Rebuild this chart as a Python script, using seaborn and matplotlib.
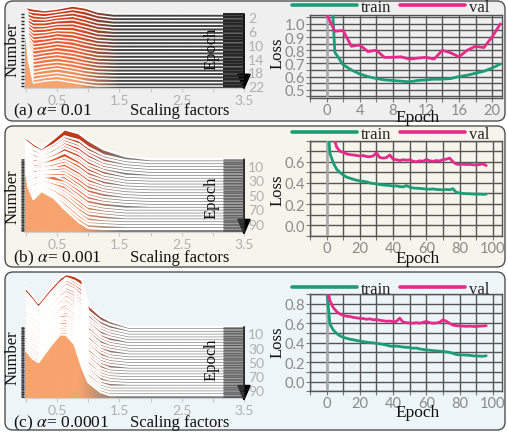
import numpy as np
import pandas as pd
import seaborn as sns
import matplotlib
import matplotlib.pyplot as plt
from matplotlib.colors import LinearSegmentedColormap
from matplotlib.patches import Polygon, FancyBboxPatch
from matplotlib.lines import Line2D
from matplotlib.transforms import IdentityTransform

matplotlib.use("Agg")

# ----------------------------
# Data
# ----------------------------
# ridge heights ("Number") per epoch, sampled at scaling-factor knots
knots_a = [0.0, 0.04, 0.12, 0.3, 0.5, 0.75, 0.95, 1.15, 1.4]
epochs_a = list(range(1, 23))
heights_a = [
    [7, 6, 5, 3.5, 5, 8, 6, 2, 0],
    [9, 6, 5, 4, 5.5, 8, 6, 2, 0],
    [11, 7, 5, 4, 6, 8, 5.5, 2, 0],
    [13, 7, 5, 4.5, 6.5, 8, 5, 1.5, 0],
    [15, 8, 5, 5, 7, 8, 5, 1.5, 0],
    [17, 8, 5, 5, 7, 7.5, 4.5, 1.5, 0],
    [20, 9, 5, 5.5, 7.5, 7.5, 4.5, 1, 0],
    [22, 9, 5, 5.5, 7.5, 7, 4, 1, 0],
    [24, 10, 5, 6, 8, 7, 4, 1, 0],
    [26, 10, 5, 6, 8, 6.5, 3.5, 1, 0],
    [28, 11, 4.5, 6, 8, 6.5, 3.5, 1, 0],
    [30, 12, 4.5, 6, 8, 6, 3, 1, 0],
    [32, 13, 4.5, 6, 8, 6, 3, 0.5, 0],
    [35, 14, 4, 6, 7.5, 5.5, 3, 0.5, 0],
    [37, 15, 4, 6, 7.5, 5.5, 2.5, 0.5, 0],
    [39, 16, 4, 6, 7.5, 5, 2.5, 0.5, 0],
    [41, 17, 4, 5.5, 7, 5, 2.5, 0.5, 0],
    [43, 18, 3.5, 5.5, 7, 4.5, 2, 0.5, 0],
    [45, 19, 3.5, 5.5, 7, 4.5, 2, 0.5, 0],
    [47, 20, 3.5, 5, 6.5, 4, 2, 0.5, 0],
    [50, 22, 3, 5, 6.5, 4, 1.5, 0, 0],
    [52, 25, 3, 5, 6, 3.5, 1.5, 0, 0],
]
ticks_epochs_a = list(range(1, 23))
label_epochs_a = [2, 6, 10, 14, 18, 22]

knots_b = [0.0, 0.04, 0.12, 0.25, 0.45, 0.62, 0.85, 1.0, 1.25, 1.6, 2.0]
epochs_b = list(range(1, 98, 4))
heights_b = [
    [21, 20, 16, 11, 21, 30, 26, 19, 10, 3, 0],
    [21, 19, 15, 11, 18, 26, 22, 15, 7, 2, 0],
    [22, 20, 16, 12, 18, 26, 21, 14, 7, 2, 0],
    [24, 21, 16, 13, 19, 26, 21, 14, 6, 2, 0],
    [25, 22, 17, 14, 19, 26, 20, 13, 6, 2, 0],
    [27, 23, 17, 15, 20, 26, 20, 13, 6, 2, 0],
    [28, 24, 18, 16, 20, 25, 19, 12, 6, 1, 0],
    [30, 25, 18, 17, 22, 27, 19, 12, 5, 1, 0],
    [31, 26, 19, 18, 21, 25, 18, 11, 5, 1, 0],
    [33, 27, 19, 19, 22, 25, 17, 10, 5, 1, 0],
    [34, 28, 20, 20, 22, 25, 17, 10, 4, 1, 0],
    [36, 29, 21, 22, 23, 24, 16, 9, 4, 1, 0],
    [37, 30, 21, 23, 23, 24, 16, 9, 4, 1, 0],
    [39, 31, 22, 24, 24, 24, 15, 8, 4, 1, 0],
    [40, 32, 23, 25, 24, 24, 14, 7, 3, 1, 0],
    [42, 33, 23, 26, 27, 23, 14, 7, 3, 1, 0],
    [43, 34, 24, 28, 25, 23, 13, 6, 3, 1, 0],
    [45, 35, 25, 29, 26, 23, 12, 5, 2, 0, 0],
    [46, 36, 25, 30, 26, 22, 12, 5, 2, 0, 0],
    [48, 37, 26, 31, 27, 22, 11, 4, 2, 0, 0],
    [50, 38, 27, 33, 28, 22, 10, 4, 2, 0, 0],
    [51, 39, 27, 34, 28, 21, 9, 3, 1, 0, 0],
    [53, 40, 28, 35, 29, 21, 9, 2, 1, 0, 0],
    [55, 41, 29, 36, 30, 20, 8, 2, 1, 0, 0],
    [57, 42, 30, 38, 31, 20, 7, 1, 0, 0, 0],
]
ticks_epochs_bc = list(range(1, 101))
label_epochs_bc = [10, 30, 50, 70, 90]

knots_c = [0.0, 0.1, 0.2, 0.4, 0.55, 0.65, 0.78, 0.9, 1.0, 1.2, 1.35, 1.65]
epochs_c = list(range(1, 98, 4))
heights_c = [
    [39, 32, 24, 39, 49, 53, 51, 47, 22, 11, 6, 0],
    [37, 30, 22, 37, 47, 52, 49, 44, 19, 9, 5, 0],
    [38, 31, 23, 37, 47, 53, 49, 44, 19, 8, 4, 0],
    [38, 31, 23, 38, 48, 53, 49, 43, 18, 8, 4, 0],
    [39, 32, 24, 38, 48, 53, 49, 42, 18, 8, 4, 0],
    [39, 32, 24, 39, 49, 54, 50, 42, 18, 7, 4, 0],
    [40, 32, 25, 40, 50, 54, 50, 41, 18, 7, 3, 0],
    [40, 33, 25, 40, 50, 54, 50, 40, 17, 7, 3, 0],
    [40, 33, 26, 41, 51, 55, 50, 40, 17, 6, 3, 0],
    [41, 33, 26, 42, 52, 55, 50, 39, 17, 6, 3, 0],
    [41, 34, 27, 42, 52, 56, 50, 38, 16, 6, 2, 0],
    [41, 34, 27, 43, 53, 56, 50, 37, 16, 6, 2, 0],
    [42, 34, 28, 44, 54, 57, 50, 37, 16, 5, 2, 0],
    [42, 35, 28, 44, 54, 57, 51, 36, 16, 5, 2, 0],
    [42, 35, 29, 45, 55, 57, 51, 35, 15, 5, 2, 0],
    [43, 35, 29, 46, 56, 58, 51, 34, 15, 5, 1, 0],
    [43, 36, 30, 46, 57, 58, 51, 34, 15, 4, 1, 0],
    [43, 36, 30, 47, 57, 58, 51, 33, 15, 4, 1, 0],
    [44, 36, 31, 48, 58, 59, 51, 32, 14, 4, 1, 0],
    [44, 36, 31, 48, 59, 59, 51, 31, 14, 4, 1, 0],
    [44, 37, 32, 49, 59, 59, 51, 31, 14, 3, 1, 0],
    [44, 37, 32, 49, 60, 59, 51, 30, 14, 3, 0, 0],
    [45, 37, 32, 49, 60, 60, 51, 29, 13, 3, 0, 0],
    [45, 37, 33, 50, 61, 60, 51, 29, 13, 3, 0, 0],
    [45, 37, 33, 50, 61, 60, 51, 28, 13, 3, 0, 0],
]

# loss curves
loss_epochs_a = list(range(0, 22))
train_a = [2.0, 0.785, 0.69, 0.65, 0.62, 0.60, 0.585, 0.575, 0.57, 0.565, 0.56,
           0.57, 0.575, 0.58, 0.58, 0.585, 0.60, 0.61, 0.625, 0.64, 0.665, 0.695]
val_a = [1.076, 0.944, 0.95, 0.83, 0.84, 0.79, 0.80, 0.746, 0.746, 0.75, 0.733,
         0.74, 0.746, 0.733, 0.80, 0.78, 0.75, 0.80, 0.83, 0.82, 0.90, 1.0]

loss_epochs_bc = list(range(0, 98, 2))
train_b = [1.10, 0.68, 0.59, 0.53, 0.50, 0.475, 0.455, 0.445, 0.435, 0.425,
           0.42, 0.415, 0.41, 0.40, 0.395, 0.39, 0.385, 0.38, 0.378, 0.375,
           0.37, 0.372, 0.365, 0.362, 0.375, 0.36, 0.352, 0.35, 0.348, 0.345,
           0.342, 0.34, 0.343, 0.338, 0.336, 0.335, 0.338, 0.335, 0.345, 0.31,
           0.305, 0.30, 0.298, 0.297, 0.295, 0.293, 0.294, 0.292, 0.293]
val_b = [1.05, 0.98, 0.85, 0.74, 0.70, 0.69, 0.675, 0.668, 0.665, 0.66,
         0.655, 0.66, 0.65, 0.648, 0.655, 0.685, 0.64, 0.635, 0.64, 0.665,
         0.625, 0.62, 0.612, 0.62, 0.615, 0.62, 0.605, 0.60, 0.61, 0.605,
         0.622, 0.61, 0.605, 0.612, 0.608, 0.62, 0.625, 0.635, 0.60, 0.578,
         0.575, 0.577, 0.574, 0.576, 0.572, 0.57, 0.575, 0.58, 0.565]
train_c = [0.95, 0.59, 0.53, 0.495, 0.47, 0.455, 0.445, 0.435, 0.43, 0.422,
           0.418, 0.41, 0.405, 0.40, 0.398, 0.392, 0.388, 0.382, 0.375, 0.365,
           0.362, 0.365, 0.36, 0.355, 0.352, 0.35, 0.343, 0.345, 0.335, 0.33,
           0.325, 0.322, 0.318, 0.315, 0.312, 0.31, 0.305, 0.30, 0.29, 0.278,
           0.275, 0.274, 0.272, 0.27, 0.265, 0.262, 0.262, 0.26, 0.265]
val_c = [1.0, 0.83, 0.76, 0.72, 0.695, 0.68, 0.672, 0.668, 0.66, 0.655,
         0.65, 0.648, 0.64, 0.645, 0.635, 0.638, 0.63, 0.625, 0.62, 0.622,
         0.615, 0.618, 0.652, 0.61, 0.605, 0.602, 0.60, 0.605, 0.60, 0.608,
         0.618, 0.605, 0.60, 0.602, 0.61, 0.635, 0.62, 0.598, 0.58, 0.574,
         0.572, 0.57, 0.568, 0.57, 0.567, 0.566, 0.57, 0.572, 0.574]

panel_labels = [r"(a) $\alpha$= 0.01", r"(b) $\alpha$= 0.001", r"(c) $\alpha$= 0.0001"]

# ----------------------------
# Style
# ----------------------------
W, H = 508, 435
sns.set_theme(style="white")
plt.rcParams["font.family"] = ["Liberation Serif", "DejaVu Serif"]
plt.rcParams["mathtext.fontset"] = "stix"

TEAL = "#1b9e77"
PINK = "#e7298a"
SANS = ["Lato", "DejaVu Sans"]
ridge_cmap = LinearSegmentedColormap.from_list(
    "ridge", ["#c1381a", "#e25229", "#ef6d3e", "#f7a46e"])

fig = plt.figure(figsize=(W / 100, H / 100), dpi=100)


def rect(x0, y0, x1, y1):
    return [x0 / W, 1 - y1 / H, (x1 - x0) / W, (y1 - y0) / H]


def ftext(x, y, s, **kw):
    fig.text(x / W, 1 - y / H, s, **kw)


# panel boxes
boxes = [(5, 2, 505, 122, "#efefef"), (5, 127, 505, 268, "#f5f5ec"),
         (5, 273, 505, 431, "#edf5f8")]
for x0, y0, x1, y1, fc in boxes:
    p = FancyBboxPatch((x0, H - y1), x1 - x0, y1 - y0,
                       boxstyle="round,pad=0,rounding_size=8",
                       fc=fc, ec="#505050", lw=1.0,
                       transform=IdentityTransform(), zorder=-5)
    fig.add_artist(p)

X_LO = -0.03


def ridge_panel(box, base0, ppe, knots, epochs, heights, tick_eps, label_eps,
                tick_w, tick_c, left_w, edge_lw, tail):
    x0, y0, x1, y1 = box
    ax = fig.add_axes(rect(x0, y0, x1, y1))
    ax.set_facecolor("none")
    ylo = (base0 - y1) / ppe
    yhi = (base0 - y0) / ppe
    xs = np.array(list(knots) + [3.5])
    cols = ridge_cmap(np.linspace(0, 1, len(epochs)))
    grad = np.linspace(0, 1, 256)[None, :]
    for i, (ep, h) in enumerate(zip(epochs, heights)):
        base = -(ep - 1)
        ys = base + np.array(list(h) + [0]) / ppe
        verts = np.vstack([[xs[0], ylo - 5], np.column_stack([xs, ys]),
                           [xs[-1], ylo - 5]])
        poly = Polygon(verts, closed=True, fc="none", ec="none")
        ax.add_patch(poly)
        cm = LinearSegmentedColormap.from_list(
            "g", [(0, cols[i]), (0.25, cols[i]), (0.44, tail), (1, tail)])
        im = ax.imshow(grad, cmap=cm, extent=(X_LO, 3.5, ylo - 5, ys.max() + 1),
                       aspect="auto", interpolation="bilinear", origin="lower",
                       zorder=2 + i * 0.01)
        im.set_clip_path(poly)
        ax.plot(xs, ys, color="white", lw=edge_lw, zorder=2 + i * 0.01 + 0.005)
    ax.set_xlim(X_LO, 3.5)
    ax.set_ylim(ylo, yhi)
    for s in ["left", "right", "top"]:
        ax.spines[s].set_visible(False)
    ax.spines["bottom"].set_color("#cfcfcf")
    ax.spines["bottom"].set_linewidth(0.8)
    ax.set_xticks(np.arange(0, 3.51, 0.5))
    ax.set_xticklabels(["", "0.5", "", "1.5", "", "2.5", "", "3.5"],
                       family=SANS, fontsize=10, color="#b0b0b0")
    ax.tick_params(axis="x", bottom=True, length=3, width=0.8,
                   color="#c8c8c8", pad=1)
    tpos = [-(e - 1) for e in tick_eps]
    ax.set_yticks(tpos)
    ax.tick_params(axis="y", left=True, labelleft=False, direction="out",
                   length=2.5, width=left_w, color="#222222")
    axr = ax.twinx()
    axr.set_ylim(ylo, yhi)
    axr.set_yticks(tpos)
    axr.set_yticklabels([str(e) if e in label_eps else "" for e in tick_eps],
                        family=SANS, fontsize=10, color="#b0b0b0")
    axr.tick_params(axis="y", right=True, direction="in", length=15,
                    width=tick_w, color=tick_c, pad=3)
    for s in axr.spines.values():
        s.set_visible(False)
    last = -(tick_eps[-1] - 1) - 4 / ppe
    ax.annotate("", xy=(3.5, last), xytext=(3.5, 0),
                arrowprops=dict(arrowstyle="-|>,head_width=0.35,head_length=0.8",
                                color="black", lw=1.3, shrinkA=0, shrinkB=0,
                                mutation_scale=12),
                annotation_clip=False, zorder=6)
    return ax


def loss_panel(box, epochs, train, val, xlim, ylim, xgrid, ygrid, xlabels,
               ylabels, leg_y):
    x0, y0, x1, y1 = box
    ax = fig.add_axes(rect(x0, y0, x1, y1))
    ax.set_facecolor("none")
    n = len(epochs)
    df = pd.DataFrame({"Epoch": list(epochs) * 2, "Loss": list(train) + list(val),
                       "split": ["train"] * n + ["val"] * n})
    sns.lineplot(data=df, x="Epoch", y="Loss", hue="split",
                 palette={"train": TEAL, "val": PINK}, linewidth=2.0,
                 legend=False, ax=ax, zorder=4)
    ax.set_xlim(*xlim)
    ax.set_ylim(*ylim)
    ax.set_xticks(xgrid)
    ax.set_xticklabels([xlabels.get(v, "") for v in xgrid], family=SANS,
                       fontsize=10.5, color="#8a8a8a")
    ax.set_yticks(ygrid)
    ax.set_yticklabels([ylabels.get(round(v, 2), "") for v in ygrid],
                       family=SANS, fontsize=10.5, color="#8a8a8a")
    ax.tick_params(axis="both", bottom=True, left=True, length=3, width=0.8,
                   color="#777777", pad=0.5)
    ax.grid(True, color="#555555", lw=1.0)
    ax.set_axisbelow(True)
    ax.axvline(0, color="#a9a9a9", lw=1.8, zorder=3)
    for s in ax.spines.values():
        s.set_color("#555555")
        s.set_linewidth(1.0)
    ax.set_xlabel("")
    ax.set_ylabel("")
    handles = [Line2D([], [], color=TEAL, lw=2.6), Line2D([], [], color=PINK, lw=2.6)]
    ax.legend(handles, ["train", "val"], loc="center",
              bbox_to_anchor=(0.42, 1 + leg_y / (y1 - y0)), ncol=2,
              frameon=False, handlelength=3.9, handletextpad=0.25,
              columnspacing=0.5, borderaxespad=0, borderpad=0,
              prop={"family": ["Liberation Serif"], "size": 12})
    return ax


# ---------- (a) ----------
ridge_panel((24.1, 3, 244, 89), 15, 3.43, knots_a, epochs_a, heights_a,
            ticks_epochs_a, label_epochs_a, 1.4, "#222222", 1.0, 1.05, "#454545")
loss_panel((310, 15.7, 502, 99), loss_epochs_a, train_a, val_a,
           (-2, 21.2), (0.437, 1.07), np.arange(-2, 21, 2),
           np.arange(0.45, 1.06, 0.05),
           {0: "0", 4: "4", 8: "8", 12: "12", 16: "16", 20: "20"},
           {1.0: "1.0", 0.9: "0.9", 0.8: "0.8", 0.7: "0.7", 0.6: "0.6", 0.5: "0.5"},
           7.5)

# ---------- (b) ----------
ridge_panel((24.1, 128, 244, 233), 160.4, 0.725, knots_b, epochs_b, heights_b,
            ticks_epochs_bc, label_epochs_bc, 0.4, "#4a4a4a", 0.5, 1.6, "#7a7a7a")
loss_panel((310, 141.7, 502, 236.7), loss_epochs_bc, train_b, val_b,
           (-10, 105.5), (-0.1, 0.8), np.arange(-10, 101, 10),
           np.arange(-0.1, 0.81, 0.1),
           {0: "0", 20: "20", 40: "40", 60: "60", 80: "80", 100: "100"},
           {0.0: "0.0", 0.2: "0.2", 0.4: "0.4", 0.6: "0.6"},
           7)

# ---------- (c) ----------
ridge_panel((24.1, 274, 244, 399), 328, 0.71, knots_c, epochs_c, heights_c,
            ticks_epochs_bc, label_epochs_bc, 0.4, "#4a4a4a", 0.5, 1.6, "#7a7a7a")
loss_panel((310, 295, 502, 392.3), loss_epochs_bc, train_c, val_c,
           (-10, 105.5), (-0.1, 0.9), np.arange(-10, 101, 10),
           np.arange(-0.1, 0.91, 0.1),
           {0: "0", 20: "20", 40: "40", 60: "60", 80: "80", 100: "100"},
           {0.0: "0.0", 0.2: "0.2", 0.4: "0.4", 0.6: "0.6", 0.8: "0.8"},
           5)

# ---------- text ----------
serif = dict(family=["Liberation Serif", "DejaVu Serif"], color="#111111")
rows = [(111, 50, 49, 53, 118), (258, 197, 198, 190, 259), (423, 358, 360, 342, 413)]
for lab, (yb, yn, ye, yl, yx) in zip(panel_labels, rows):
    ftext(13, yb, lab, fontsize=12.5, va="center", ha="left", **serif)
    ftext(180, yb, "Scaling factors", fontsize=12, va="center", ha="center", **serif)
    ftext(13, yn, "Number", fontsize=12, rotation=90, va="center", ha="center", **serif)
    ftext(212, ye, "Epoch", fontsize=12, rotation=90, va="center", ha="center", **serif)
    ftext(278, yl, "Loss", fontsize=12, rotation=90, va="center", ha="center", **serif)
    ftext(418, yx, "Epoch", fontsize=12.5, va="center", ha="center", **serif)

fig.savefig("out.png", dpi=100)
